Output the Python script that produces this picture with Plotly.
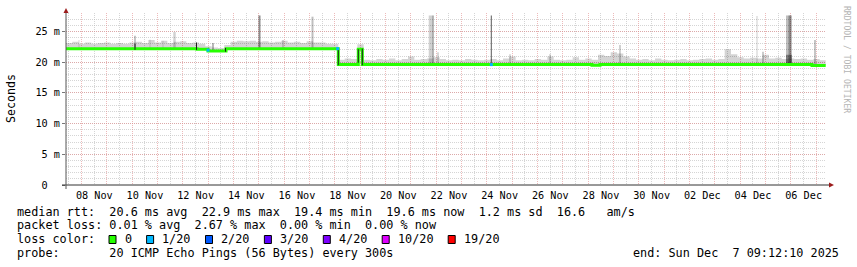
import pandas as pd
import plotly.graph_objects as go

# ---------------- data ----------------
START = "2025-11-07 09:12:10"
END = "2025-12-07 09:12:10"
DATA_END = "2025-12-07 08:55:00"

# median RTT (ms), step changes
median_times = ["2025-11-07 09:12:10", "2025-11-12 13:18", "2025-11-12 23:44", "2025-11-13 16:47",
                "2025-11-18 03:10", "2025-11-18 22:07", "2025-11-19 01:55", "2025-11-28 03:30",
                "2025-11-28 11:06", "2025-12-06 19:56", DATA_END]
median_ms = [22.2, 22.1, 21.8, 22.2, 19.6, 22.1, 19.6, 19.5, 19.6, 19.45, 19.45]

# upper edge of the ping "smoke" (ms), one value per 6 hours from START
smoke_top_ms = [
    23.1, 23.3, 23.0, 23.2, 23.0, 23.1, 23.2, 23.0, 23.1, 23.0, 23.2, 23.3,
    23.1, 23.6, 23.2, 23.5, 23.1, 23.3, 23.4, 23.1, 23.2, 23.0, 22.6, 22.4,
    22.3, 22.8, 23.3, 23.5, 23.4, 23.5, 23.3, 23.4, 23.2, 23.3, 23.5, 23.2,
    23.3, 23.1, 23.4, 23.2, 23.2, 23.0, 23.0, 20.4, 20.6, 20.5, 22.9, 20.4,
    20.3, 20.5, 20.4, 20.6, 20.3, 20.5, 20.9, 20.4, 20.5, 20.6, 20.8, 20.5,
    20.3, 20.4, 20.3, 20.5, 20.4, 20.3, 20.4, 20.5, 20.3, 20.6, 20.9, 20.3,
    20.4, 20.3, 20.5, 20.4, 20.9, 20.4, 20.3, 20.4, 20.8, 20.4, 20.6, 20.4,
    21.2, 21.0, 21.6, 21.4, 20.9, 20.6, 20.4, 20.5, 20.3, 20.6, 20.4, 20.3,
    20.4, 20.5, 20.3, 20.4, 20.5, 20.6, 20.4, 20.5, 22.1, 21.3, 20.8, 20.6,
    20.7, 20.6, 21.2, 20.6, 20.7, 20.5, 20.6, 20.5, 20.6, 20.4, 20.5, 20.3,
]

# individual smoke spikes: time, low (ms), high (ms), duration (minutes)
spike_times = ["2025-11-07 21:30", "2025-11-10 02:34", "2025-11-10 16:47", "2025-11-11 05:05",
               "2025-11-11 16:00", "2025-11-13 04:28", "2025-11-15 00:31", "2025-11-15 22:47",
               "2025-11-17 02:44", "2025-11-21 18:31", "2025-11-21 20:53", "2025-11-22 01:37",
               "2025-11-24 04:07", "2025-11-24 21:50", "2025-11-26 11:44", "2025-11-29 06:02",
               "2025-12-04 15:50", "2025-12-04 21:31", "2025-12-05 22:09", "2025-12-05 22:40",
               "2025-12-05 23:06", "2025-12-05 22:09", "2025-12-06 22:47"]
spike_low_ms = [22.2, 22.2, 22.2, 22.2, 22.2, 21.8, 22.2, 22.2, 22.2, 19.6, 19.6, 19.6,
                19.6, 19.6, 19.6, 19.6, 19.6, 19.6, 19.6, 19.6, 19.6, 19.6, 19.4]
spike_high_ms = [23.6, 24.3, 23.7, 23.5, 24.9, 23.1, 27.6, 23.6, 27.4, 27.6, 27.6, 21.6,
                 27.6, 21.3, 21.3, 22.8, 27.5, 21.7, 27.6, 27.6, 27.6, 21.2, 23.6]
spike_minutes = [57, 57, 57, 57, 140, 57, 114, 114, 114, 200, 57, 114,
                 57, 114, 114, 114, 57, 114, 340, 170, 57, 340, 57]
# ping density (darkness) of each spike
spike_density = [0.15, 0.45, 0.15, 0.15, 0.18, 0.55, 0.45, 0.15, 0.25, 0.18, 0.55, 0.15,
                 0.65, 0.15, 0.15, 0.18, 0.2, 0.2, 0.25, 0.15, 0.3, 0.35, 0.45]

# dense smoke at median level changes
step_times = ["2025-11-10 02:34", "2025-11-12 12:50", "2025-11-13 16:19",
              "2025-11-18 03:10", "2025-11-18 22:07", "2025-11-19 01:55"]
step_low_ms = [22.0, 22.0, 21.7, 19.5, 19.9, 19.5]
step_high_ms = [23.0, 23.2, 22.3, 22.3, 22.1, 22.2]

# samples with packet loss
loss_times = ["2025-11-12 23:44", "2025-11-18 02:30", "2025-11-24 04:07"]
loss_ms = [21.95, 22.2, 19.6]
loss_level = [1, 1, 1]

loss_labels = ["0", "1/20", "2/20", "3/20", "4/20", "10/20", "19/20"]
loss_colors = ["#26ff00", "#00b8ff", "#0059ff", "#5e00ff", "#7e00ff", "#dd00ff", "#ff0000"]

y_ticks = [0, 5, 10, 15, 20, 25]
y_ticktext = ["0\u00a0\u00a0", "5\u00a0m", "10\u00a0m", "15\u00a0m", "20\u00a0m", "25\u00a0m"]

line_rtt = "median rtt:  20.6 ms avg  22.9 ms max  19.4 ms min  19.6 ms now  1.2 ms sd  16.6   am/s"
line_loss = "packet loss: 0.01 % avg  2.67 % max  0.00 % min  0.00 % now"
line_probe = "probe:       20 ICMP Echo Pings (56 Bytes) every 300s"
line_end = "end: Sun Dec  7 09:12:10 2025"

# ---------------- layout helpers ----------------
W, H = 857, 267
L, T, PW, PH = 66, 13, 760, 172
MONO = "DejaVu Sans Mono"


def px(x):
    return (x - L) / PW


def py(y):
    return (T + PH - y) / PH


def nb(s):
    return s.replace(" ", "\u00a0")


fig = go.Figure()

# smoke base (median) and smoke top
fig.add_trace(go.Scatter(x=median_times, y=median_ms, mode="lines",
                         line=dict(width=0, shape="hv"), hoverinfo="skip", showlegend=False))
smoke_x = list(pd.date_range(START, periods=len(smoke_top_ms), freq="6h")) + [pd.Timestamp(DATA_END)]
fig.add_trace(go.Scatter(x=smoke_x, y=smoke_top_ms + [smoke_top_ms[-1]], mode="lines",
                         line=dict(width=0, shape="hv"), fill="tonexty",
                         fillcolor="rgba(0,0,0,0.17)", hoverinfo="skip", showlegend=False))

# spikes
fig.add_trace(go.Bar(x=spike_times, base=spike_low_ms,
                     y=[h - l for h, l in zip(spike_high_ms, spike_low_ms)],
                     width=[m * 60000 for m in spike_minutes],
                     marker=dict(color=[f"rgba(0,0,0,{d})" for d in spike_density], line=dict(width=0)),
                     hoverinfo="skip", showlegend=False))

# median line
fig.add_trace(go.Scatter(x=median_times, y=median_ms, mode="lines",
                         line=dict(width=3, shape="hv", color=loss_colors[0]),
                         hoverinfo="skip", showlegend=False))

# step transitions
sx, sy = [], []
for t, lo, hi in zip(step_times, step_low_ms, step_high_ms):
    sx += [t, t, None]
    sy += [lo, hi, None]
fig.add_trace(go.Scatter(x=sx, y=sy, mode="lines", line=dict(width=1, color="#1e1e1e"),
                         hoverinfo="skip", showlegend=False))

# loss markers
fig.add_trace(go.Scatter(x=loss_times, y=loss_ms, mode="markers",
                         marker=dict(symbol="square", size=3, color=[loss_colors[i] for i in loss_level],
                                     line=dict(width=0)),
                         hoverinfo="skip", showlegend=False))

# invisible trace for label axis
fig.add_trace(go.Scatter(x=[START, END], y=[None, None], xaxis="x2", mode="lines",
                         hoverinfo="skip", showlegend=False))

RED = "rgba(225,140,140,0.6)"
GRAY = "rgba(185,185,185,0.6)"
DASH = "1px,1px"

fig.update_layout(
    width=W, height=H,
    margin=dict(l=L, r=W - L - PW, t=T, b=H - T - PH, pad=0),
    paper_bgcolor="white", plot_bgcolor="white",
    barmode="overlay",
    showlegend=False,
    xaxis=dict(type="date", range=[START, END], showticklabels=False,
               tick0="2025-11-08 00:00", dtick=86400000, ticks="",
               showgrid=True, gridcolor=RED, griddash=DASH, gridwidth=1,
               minor=dict(tick0="2025-11-08 00:00", dtick=43200000, showgrid=True,
                          gridcolor=GRAY, griddash=DASH, gridwidth=1),
               showline=False, zeroline=False, fixedrange=True),
    xaxis2=dict(type="date", range=[START, END], overlaying="x", anchor="y", side="bottom",
                tick0="2025-11-08 12:00", dtick=172800000, tickformat="%d %b",
                showgrid=False, ticks="", showline=False, zeroline=False,
                tickfont=dict(family=MONO, size=10.2, color="#000"), ticklabelstandoff=3),
    yaxis=dict(range=[0, 28], tickmode="array", tickvals=y_ticks, ticktext=y_ticktext,
               showgrid=True, gridcolor=RED, griddash=DASH, gridwidth=1,
               minor=dict(tickmode="linear", tick0=0, dtick=1, showgrid=True,
                          gridcolor=GRAY, griddash=DASH, gridwidth=1),
               ticks="outside", ticklen=3, tickcolor="#777", tickwidth=1,
               tickfont=dict(family=MONO, size=10.2, color="#000"),
               showline=False, zeroline=False, fixedrange=True),
)

AX = "#333333"
ARROW = "#9c1c1c"
shapes = [
    dict(type="line", xref="paper", yref="paper", x0=px(62), x1=px(830), y0=0, y1=0,
         line=dict(color=AX, width=1)),
    dict(type="line", xref="paper", yref="paper", x0=0, x1=0, y0=py(189), y1=py(10),
         line=dict(color="#555555", width=1)),
    dict(type="path", xref="paper", yref="paper",
         path=f"M {px(829)} {py(182.5)} L {px(834)} {py(185)} L {px(829)} {py(187.5)} Z",
         fillcolor=ARROW, line=dict(color=ARROW, width=0)),
    dict(type="path", xref="paper", yref="paper",
         path=f"M {px(63.5)} {py(13)} L {px(66)} {py(8)} L {px(68.5)} {py(13)} Z",
         fillcolor=ARROW, line=dict(color=ARROW, width=0)),
]

annotations = [
    dict(text="Seconds", x=px(11), y=py(99), xref="paper", yref="paper", textangle=-90,
         showarrow=False, font=dict(family=MONO, size=11.6, color="#000"),
         xanchor="center", yanchor="middle"),
    dict(text=nb("RRDTOOL / TOBI OETIKER"), x=px(847), y=py(59), xref="paper", yref="paper",
         textangle=90, showarrow=False, font=dict(family=MONO, size=8.1, color="#b4b4b4"),
         xanchor="center", yanchor="middle"),
]

LEG_FONT = dict(family=MONO, size=11.8, color="#000")
for text, yy in [(line_rtt, 211.5), (line_loss, 225.3), ("loss color:", 239.3), (line_probe, 253.3)]:
    annotations.append(dict(text=nb(text), x=px(15), y=py(yy), xref="paper", yref="paper",
                            showarrow=False, font=LEG_FONT, xanchor="left", yanchor="middle"))
annotations.append(dict(text=nb(line_end), x=px(841), y=py(253.3), xref="paper", yref="paper",
                        showarrow=False, font=LEG_FONT, xanchor="right", yanchor="middle"))

bx = 109.0
for lab, col in zip(loss_labels, loss_colors):
    shapes.append(dict(type="rect", xref="paper", yref="paper", x0=px(bx), x1=px(bx + 7),
                       y0=py(243.5), y1=py(235.5), fillcolor=col, line=dict(color="#000", width=1)))
    annotations.append(dict(text=nb(lab), x=px(bx + 13.5), y=py(239.3), xref="paper", yref="paper",
                            showarrow=False, font=LEG_FONT, xanchor="left", yanchor="middle"))
    bx += 14.3 + len(lab) * 7.1 + 16.2

fig.update_layout(shapes=shapes, annotations=annotations)
fig.write_html("out.html")
